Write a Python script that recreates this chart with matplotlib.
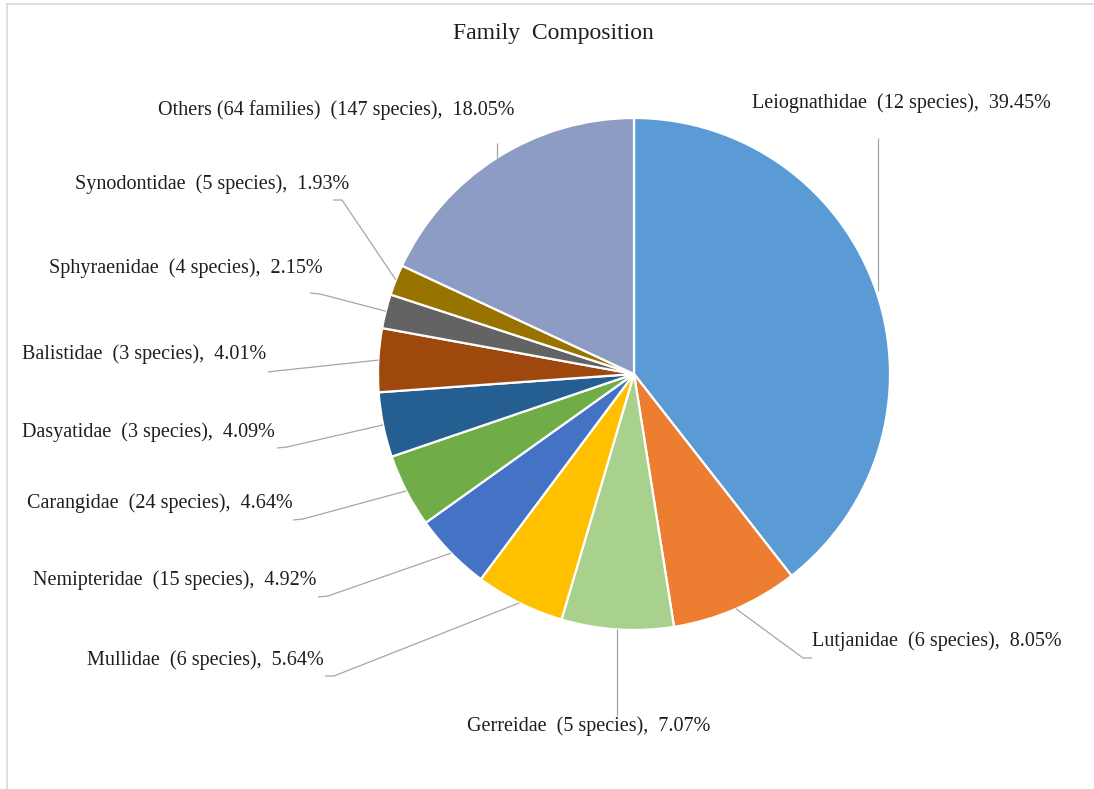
import numpy as np
import matplotlib
matplotlib.use("Agg")
import matplotlib.pyplot as plt

plt.rcParams["font.family"] = ["Liberation Serif", "DejaVu Serif"]

# Family composition data
families = ["Leiognathidae", "Lutjanidae", "Gerreidae", "Mullidae", "Nemipteridae",
            "Carangidae", "Dasyatidae", "Balistidae", "Sphyraenidae", "Synodontidae",
            "Others (64 families)"]
species = [12, 6, 5, 6, 15, 24, 3, 3, 4, 5, 147]
percent = [39.45, 8.05, 7.07, 5.64, 4.92, 4.64, 4.09, 4.01, 2.15, 1.93, 18.05]
colors = ["#5B9BD5", "#ED7D31", "#A9D18E", "#FFC000", "#4472C4", "#70AD47",
          "#255E91", "#9E480E", "#636363", "#997300", "#8C9CC4"]

W, H = 1094, 789
fig = plt.figure(figsize=(W / 100, H / 100), dpi=100)
ax = fig.add_axes([0, 0, 1, 1])

center = (634, 374)
radius = 256
# y axis runs downward, so counterclockwise in data is clockwise on screen
wedges, _ = ax.pie(percent, colors=colors, startangle=-90, counterclock=True,
                   center=center, radius=radius,
                   wedgeprops=dict(edgecolor="white", linewidth=1.6))
ax.set_xlim(0, W)
ax.set_ylim(H, 0)
ax.set_aspect("equal")
ax.axis("off")

# label layout: text anchor (left x, center y) and leader path from label to slice
layout = [
    ((752, 103), [(878, 138)]),
    ((812, 641), [(812, 658), (803, 658)]),
    ((467, 726), [(617, 716)]),
    ((87, 660), [(325, 676), (334, 676)]),
    ((33, 580), [(318, 597), (328, 596)]),
    ((27, 503), [(293, 520), (303, 519)]),
    ((22, 432), [(277, 448), (287, 447)]),
    ((22, 354), [(268, 372), (276, 371)]),
    ((49, 268), [(310, 293), (320, 294)]),
    ((75, 184), [(333, 200), (342, 200)]),
    ((158, 110), [(497, 143)]),
]

line_col = "#A6A6A6"
text_col = "#1E1E1E"
for w, fam, sp, pc, (tpos, path) in zip(wedges, families, species, percent, layout):
    mid = np.deg2rad((w.theta1 + w.theta2) / 2)
    ax_pt = (center[0] + radius * np.cos(mid), center[1] + radius * np.sin(mid))
    pts = path + [ax_pt]
    if len(path) == 1 and abs(path[0][0] - ax_pt[0]) < 4:
        # vertical leader
        pts = [path[0], (path[0][0], ax_pt[1])]
    xs, ys = zip(*pts)
    ax.plot(xs, ys, color=line_col, lw=0.9, solid_capstyle="butt", zorder=1)
    ax.text(tpos[0], tpos[1], f"{fam}  ({sp} species),  {pc:.2f}%",
            ha="left", va="center", fontsize=14.5, color=text_col)

ax.text(553, 33, "Family  Composition", ha="center", va="center",
        fontsize=17, color=text_col)

# chart area frame (top and left edges)
ax.plot([7, W], [4, 4], color="#D9D9D9", lw=1.2, clip_on=False)
ax.plot([7, 7], [4, H], color="#D9D9D9", lw=1.2, clip_on=False)

fig.savefig("out.png", dpi=100, facecolor="white")
